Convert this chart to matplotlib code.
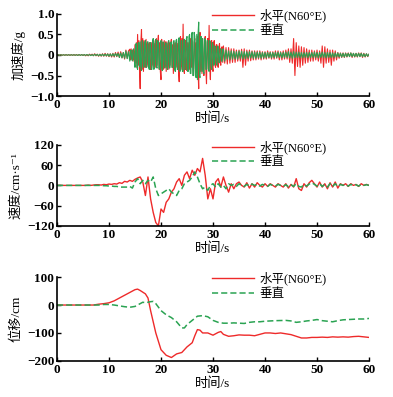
import numpy as np
import matplotlib
matplotlib.use('Agg')
import matplotlib.pyplot as plt
from matplotlib.lines import Line2D

plt.rcParams['font.family'] = ['Liberation Serif', 'Noto Sans CJK SC', 'DejaVu Sans']

RED = '#ee2a2a'
GREEN = '#2aa352'

# acceleration (g): 0.25 s step, 0.125 s step between 14 s and 32 s
t_acc = np.concatenate([np.arange(0, 14, 0.25), np.arange(14, 32, 0.125), np.arange(32, 60.001, 0.25)])
acc_h = [
    0.00, 0.01, -0.01, 0.01,  -0.01, 0.01, -0.01, 0.01,  -0.01, 0.01, -0.01, 0.01,
    -0.01, 0.01, -0.01, 0.01,  -0.01, 0.01, -0.01, 0.01,  -0.01, 0.01, -0.02, 0.01,
    -0.02, 0.02, -0.01, 0.02,  -0.02, 0.03, -0.02, 0.02,  -0.03, 0.02, -0.03, 0.03,
    -0.03, 0.04, -0.03, 0.03,  -0.04, 0.03, -0.05, 0.04,  -0.05, 0.06, -0.04, 0.07,
    -0.06, 0.08, -0.07, 0.06,  -0.10, 0.12, -0.08, 0.10,
    0.14, -0.12, 0.15, -0.10, 0.12, -0.15, 0.10, -0.12,
    0.25, -0.20, 0.30, -0.30, 0.50, -0.25, 0.35, -0.40,
    -0.82, 0.30, 0.62, -0.35, 0.40, -0.40, 0.35, -0.30,
    -0.30, 0.38, -0.25, 0.30, -0.28, 0.25, 0.30, -0.35,
    -0.35, 0.30, -0.25, 0.35, -0.30, 0.28, -0.32, 0.35,
    -0.30, 0.40, -0.25, 0.30, 0.48, -0.35, 0.30, -0.40,
    -0.60, 0.38, -0.30, 0.30, -0.35, 0.35, -0.30, 0.32,
    -0.40, 0.32, -0.30, 0.28, -0.35, 0.30, -0.25, 0.30,
    0.38, -0.30, 0.25, -0.45, 0.30, -0.28, 0.30, -0.30,
    0.35, -0.30, 0.28, -0.40, -0.65, 0.30, 0.45, -0.35,
    0.40, -0.30, 0.75, -0.35, -0.45, 0.30, 0.35, -0.30,
    -0.38, 0.30, -0.28, 0.30, -0.35, 0.32, 0.40, -0.30,
    0.35, -0.30, -0.50, 0.30, 0.40, -0.35, 0.30, -0.35,
    0.45, -0.40, -0.82, 0.35, 0.55, -0.40, 0.35, -0.45,
    0.40, -0.35, -0.50, 0.30, 0.45, -0.35, -0.70, 0.30,
    0.40, -0.35, 0.72, -0.30, -0.60, 0.30, 0.35, -0.30,
    -0.40, 0.30, 0.35, -0.25, -0.30, 0.25, 0.25, -0.22,
    -0.30, 0.20, 0.28, -0.20, -0.25, 0.18, 0.20, -0.18,
    0.22, -0.20, 0.18, -0.22,  0.18, -0.20, 0.15, -0.18,  0.15, -0.18, 0.12, -0.15,
    0.12, -0.15, 0.14, -0.30,  0.15, -0.25, 0.12, -0.15,  0.12, -0.14, 0.10, -0.12,
    0.10, -0.12, 0.10, -0.10,  0.10, -0.12, 0.08, -0.10,  0.08, -0.10, 0.10, -0.08,
    0.08, -0.10, 0.08, -0.10,  0.10, -0.08, 0.10, -0.12,  0.08, -0.12, 0.10, -0.10,
    0.12, -0.10, 0.15, -0.18,  0.15, -0.20, 0.40, -0.50,  0.30, -0.28, 0.22, -0.30,
    0.20, -0.25, 0.18, -0.20,  0.15, -0.18, 0.12, -0.15,  0.12, -0.15, 0.10, -0.12,
    0.12, -0.15, 0.10, -0.20,  0.22, -0.30, 0.20, -0.20,  0.15, -0.18, 0.12, -0.25,
    0.12, -0.15, 0.10, -0.12,  0.06, -0.08, 0.05, -0.06,  0.05, -0.06, 0.05, -0.05,
    0.05, -0.04, 0.05, -0.06,  0.04, -0.05, 0.04, -0.05,  0.05, -0.04, 0.05, -0.06,
    0.04, -0.05, 0.03, -0.04,
    0.02,
]
acc_v = [
    0.00, 0.005, -0.005, 0.005,  -0.005, 0.005, -0.005, 0.005,  -0.005, 0.005, -0.005, 0.005,
    -0.005, 0.005, -0.005, 0.005,  -0.01, 0.01, -0.01, 0.01,  -0.01, 0.01, -0.01, 0.01,
    -0.01, 0.01, -0.015, 0.01,  -0.015, 0.015, -0.01, 0.015,  -0.02, 0.015, -0.02, 0.02,
    -0.02, 0.02, -0.02, 0.025,  -0.03, 0.025, -0.03, 0.03,  -0.03, 0.035, -0.03, 0.04,
    -0.06, 0.05, -0.07, 0.06,  -0.08, 0.10, -0.09, 0.08,
    -0.15, 0.10, 0.12, -0.10, -0.14, 0.12, 0.15, -0.12,
    -0.30, 0.25, 0.28, -0.30, -0.35, 0.30, 0.30, -0.28,
    0.32, -0.30, -0.38, 0.35, 0.30, -0.30, -0.28, 0.30,
    0.35, -0.30, -0.30, 0.32, 0.32, -0.30, -0.35, 0.30,
    0.30, -0.35, -0.35, 0.30, 0.40, -0.35, -0.30, 0.30,
    0.38, -0.30, -0.32, 0.35, 0.30, -0.32, -0.35, 0.30,
    0.35, -0.30, -0.38, 0.32, 0.30, -0.30, -0.32, 0.30,
    0.28, -0.30, -0.35, 0.30, 0.35, -0.32, -0.30, 0.30,
    0.32, -0.30, -0.30, 0.32, 0.35, -0.35, -0.40, 0.35,
    0.38, -0.35, -0.35, 0.38, 0.42, -0.40, -0.38, 0.35,
    0.35, -0.40, -0.40, 0.38, 0.38, -0.35, -0.35, 0.40,
    0.45, -0.40, -0.40, 0.45, 0.50, -0.45, -0.45, 0.50,
    0.55, -0.50, -0.50, 0.55, 0.45, -0.50, -0.55, 0.50,
    -0.60, 0.50, 0.80, -0.50, -0.55, 0.45, 0.45, -0.40,
    0.40, -0.40, -0.45, 0.40, 0.38, -0.35, -0.35, 0.35,
    0.35, -0.35, -0.40, 0.35, 0.30, -0.30, -0.35, 0.30,
    0.25, -0.25, -0.22, 0.22, 0.20, -0.20, -0.25, 0.22,
    0.20, -0.18, -0.18, 0.15, 0.15, -0.15, -0.15, 0.15,
    0.12, -0.15, 0.12, -0.10,  0.10, -0.12, 0.10, -0.10,  0.09, -0.10, 0.08, -0.10,
    0.10, -0.08, 0.09, -0.10,  0.08, -0.09, 0.08, -0.08,  0.08, -0.07, 0.08, -0.08,
    0.07, -0.08, 0.07, -0.07,  0.07, -0.08, 0.06, -0.07,  0.06, -0.07, 0.06, -0.06,
    0.06, -0.07, 0.06, -0.06,  0.06, -0.06, 0.07, -0.06,  0.06, -0.07, 0.06, -0.06,
    0.07, -0.06, 0.08, -0.07,  0.07, -0.08, 0.08, -0.07,  0.07, -0.06, 0.07, -0.07,
    0.06, -0.07, 0.06, -0.06,  0.06, -0.07, 0.06, -0.06,  0.06, -0.06, 0.07, -0.06,
    0.06, -0.07, 0.06, -0.06,  0.07, -0.06, 0.06, -0.07,  0.06, -0.06, 0.06, -0.06,
    0.05, -0.06, 0.05, -0.05,  0.05, -0.05, 0.04, -0.05,  0.04, -0.05, 0.04, -0.04,
    0.04, -0.04, 0.05, -0.04,  0.04, -0.04, 0.04, -0.04,  0.04, -0.04, 0.04, -0.04,
    0.03, -0.04, 0.03, -0.03,
    0.02,
]

# velocity, 0.5 s step (cm/s)
t_vel = np.arange(0, 60.001, 0.5)
vel_h = [
    0, 0, 0, 0, 0, 0, 0, 0, 0, 0, 0, 0,
    1, 0, 1, 2, 2, 1, 3, 2, 4, 3, 5, 4,
    8, 6, 12, 10, 15, 12, 18, 22, 25, 10, -30, 25,
    -40, -80, -110, -120, -70, -80, -50, -40, -20, -10, 10, 20,
    0, 30, 40, 20, 45, 30, 50, 40, 80, 30, -40, -10,
    -40, 10, 20, -5, 25, 0, -20, 5, -10, 5, 10, 0,
    -5, 8, -8, 5, -5, 8, 0, -5, 5, -3, 5, 0,
    -5, 5, 0, -5, 5, -8, 3, -5, 20, -10, -15, 5,
    -5, 8, 15, 5, -5, 10, -5, 5, -10, 8, -5, 10,
    -8, 5, 0, 5, -3, 5, 0, 3, -3, 5, 0, 3,
    0,
]
vel_v = [
    0, 0, 0, 0, 0, 0, 0, 0, 0, 0, 0, 0,
    0, 0, 0, 0, 0, 0, -1, -1, -2, -2, -3, -3,
    -5, -5, -5, -5, -3, -8, 10, 20, 5, 15, 5, 15,
    10, 25, -10, -30, -25, -20, -15, -10, -20, -25, -30, -15,
    -10, 5, 10, 15, 25, 40, 25, 5, -10, -5, -15, 0,
    5, -5, 5, -5, 0, -10, 5, 0, 3, -3, 5, 0,
    -3, 3, -2, 4, 0, 3, -2, 3, 0, -3, 3, 0,
    -2, 3, 0, -3, 2, -4, 2, -3, 5, -3, -5, 3,
    -2, 4, 8, 3, -2, 5, -3, 3, -5, 5, -3, 5,
    -4, 3, 0, 3, -2, 3, 0, 2, -2, 3, 0, 2,
    0,
]

# displacement (cm)
t_dis_h = [0, 7, 8, 9, 10, 11, 12, 13, 14, 15, 15.5, 16, 17, 17.5, 18, 19, 20, 21, 22, 23, 24,
           25, 26, 26.5, 27, 27.5, 28, 29, 30, 31, 31.5, 32, 33, 34, 35, 36, 37, 38, 39, 40,
           41, 42, 43, 44, 45, 46, 47, 48, 49, 50, 51, 52, 53, 54, 55, 56, 57, 58, 59, 60]
dis_h = [0, 0, 3, 5, 8, 15, 25, 35, 45, 55, 57, 52, 40, 25, -20, -100, -160, -180, -188, -175, -170,
         -150, -135, -110, -88, -90, -100, -100, -108, -98, -95, -105, -112, -110, -107, -108, -108, -110, -105, -100,
         -100, -102, -100, -103, -106, -112, -118, -118, -116, -116, -115, -116, -114, -115, -114, -115, -113, -112, -114, -116]
t_dis_v = [0, 8, 9, 10, 11, 12, 13, 14, 15, 16, 16.5, 17, 18, 18.5, 19, 20, 21, 22, 23, 24, 24.5,
           25, 26, 27, 28, 29, 30, 31, 32, 33, 34, 35, 36, 37, 38, 39, 40, 42, 44, 45,
           46, 47, 48, 49, 50, 51, 52, 53, 54, 55, 56, 57, 58, 59, 60]
dis_v = [0, 0, 2, 2, 0, -3, -6, -8, -5, 5, 10, 8, 12, 13, 5, -20, -35, -45, -60, -82, -82,
         -70, -55, -40, -38, -42, -55, -62, -65, -65, -64, -65, -66, -62, -60, -60, -58, -56, -55, -57,
         -62, -60, -57, -55, -52, -56, -58, -60, -56, -53, -52, -51, -50, -50, -48]

labels = ['水平(N60°E)', '垂直']
DASH = (0, (4, 2))

fig = plt.figure(figsize=(3.93, 3.97), dpi=100)
left, width = 0.145, 0.794
boxes = [(0.758, 0.207), (0.431, 0.204), (0.091, 0.211)]
panels = [
    (t_acc, acc_h, t_acc, acc_v, (-1.0, 1.0), [-1.0, -0.5, 0, 0.5, 1.0],
     ['−1.0', '−0.5', '0', '0.5', '1.0'], '加速度/g'),
    (t_vel, vel_h, t_vel, vel_v, (-120, 120), [-120, -60, 0, 60, 120],
     ['−120', '−60', '0', '60', '120'], '速度/cm·s⁻¹'),
    (t_dis_h, dis_h, t_dis_v, dis_v, (-200, 100), [-200, -100, 0, 100],
     ['−200', '−100', '0', '100'], '位移/cm'),
]

for i, ((bottom, height), (th, yh, tv, yv, ylim, yt, ytl, ylab)) in enumerate(zip(boxes, panels)):
    ax = fig.add_axes([left, bottom, width, height])
    if i == 0:
        # dense record: dashes vanish at this density, draw it solid
        ax.plot(th, yh, color=RED, lw=0.8)
        ax.plot(tv, yv, color=GREEN, lw=0.8)
    else:
        ax.plot(th, yh, color=RED, lw=1.0)
        ax.plot(tv, yv, color=GREEN, lw=1.1, ls=DASH)
    ax.set_xlim(0, 60)
    ax.set_ylim(*ylim)
    ax.set_xticks([0, 10, 20, 30, 40, 50, 60])
    ax.set_yticks(yt)
    ax.set_yticklabels(ytl)
    for s in ['top', 'right']:
        ax.spines[s].set_visible(False)
    for s in ['left', 'bottom']:
        ax.spines[s].set_linewidth(1.2)
    ax.tick_params(direction='in', length=3, width=1.0, labelsize=9.5, pad=2)
    for lab in ax.get_xticklabels() + ax.get_yticklabels():
        lab.set_fontweight('bold')
    ax.set_xlabel('时间/s', fontsize=9.5, labelpad=1)
    ax.set_ylabel(ylab, fontsize=9.5, labelpad=3)
    handles = [Line2D([], [], color=RED, lw=1.0), Line2D([], [], color=GREEN, lw=1.1, ls=DASH)]
    ax.legend(handles, labels, loc='upper right', bbox_to_anchor=(0.88, 1.12), frameon=False,
              fontsize=9, handlelength=3.4, handletextpad=0.4, labelspacing=0.2,
              borderaxespad=0)

fig.savefig('out.png', dpi=100)
